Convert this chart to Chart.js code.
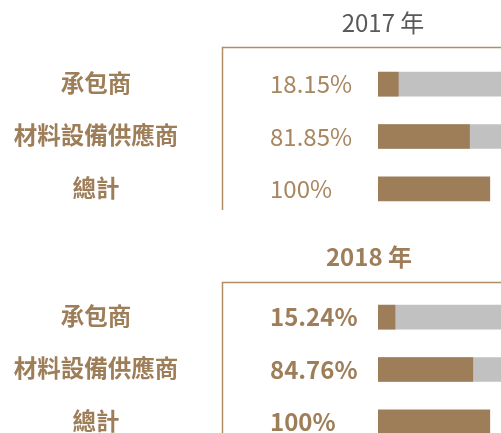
<!DOCTYPE html>
<html>
<head>
<meta charset="utf-8">
<script src="https://cdn.jsdelivr.net/npm/chart.js@4"></script>
<style>
  html, body { margin: 0; padding: 0; background: #fff; overflow: hidden; }
  .wrap { position: relative; width: 501px; height: 433px; overflow: hidden; }
  canvas { position: absolute; left: 0; }
</style>
</head>
<body>
<div class="wrap">
  <canvas id="year2017" width="501" height="230" style="top:0"></canvas>
  <canvas id="year2018" width="501" height="240" style="top:230px"></canvas>
</div>
<script>
const categories = ["承包商", "材料設備供應商", "總計"];
const share2017 = [18.15, 81.85, 100];
const share2018 = [15.24, 84.76, 100];
const pctLabels2017 = ["18.15%", "81.85%", "100%"];
const pctLabels2018 = ["15.24%", "84.76%", "100%"];
// grey track behind the partial rows runs to the end of the axis
const axisMax = 110;
const track = [axisMax, axisMax, null];

const BROWN = "#9e7e59";
const GREY = "#c1c1c1";
const FONT = "'Noto Sans CJK TC', 'Noto Sans', sans-serif";

// titles, the bracket lines and the two text columns
const sheetText = {
  id: "sheet",
  afterDraw(chart, args, opts) {
    const ctx = chart.ctx;
    const y = chart.scales.y;
    ctx.save();

    ctx.fillStyle = opts.titleColor;
    ctx.font = opts.titleWeight + " 24px " + FONT;
    ctx.textAlign = "center";
    ctx.textBaseline = "middle";
    ctx.fillText(opts.title, opts.titleX, opts.titleY);

    ctx.strokeStyle = "#b08d66";
    ctx.lineWidth = 1.5;
    ctx.beginPath();
    ctx.moveTo(chart.width, opts.boxTop + 0.5);
    ctx.lineTo(222.5, opts.boxTop + 0.5);
    ctx.lineTo(222.5, opts.boxBottom);
    ctx.stroke();

    categories.forEach((name, i) => {
      const cy = y.getPixelForValue(i);
      ctx.fillStyle = BROWN;
      ctx.font = "bold 23.5px " + FONT;
      ctx.textAlign = "center";
      ctx.fillText(name, 96, cy - 1);

      ctx.fillStyle = opts.pctColor;
      ctx.font = opts.pctWeight + " 24px " + FONT;
      ctx.textAlign = "left";
      ctx.fillText(opts.pct[i], 270, cy);
    });
    ctx.restore();
  }
};

function makeChart(id, values, pct, extra, pad) {
  return new Chart(document.getElementById(id), {
    type: "bar",
    data: {
      labels: categories,
      datasets: [{
        data: values,
        backgroundColor: BROWN,
        barThickness: 24,
        grouped: false,
        order: 1
      }, {
        data: track,
        backgroundColor: GREY,
        barThickness: 24,
        grouped: false,
        order: 2
      }]
    },
    options: {
      indexAxis: "y",
      responsive: false,
      animation: false,
      devicePixelRatio: 1,
      layout: { padding: pad },
      plugins: {
        legend: { display: false },
        tooltip: { enabled: false },
        sheet: Object.assign({ pct: pct }, extra)
      },
      scales: {
        x: { display: false, min: 0, max: axisMax },
        y: { display: false, offset: true }
      }
    },
    plugins: [sheetText]
  });
}

makeChart("year2017", share2017, pctLabels2017, {
  title: "2017 年", titleX: 383, titleY: 23, titleColor: "#595959", titleWeight: "normal",
  pctColor: "#a8865f", pctWeight: "normal", boxTop: 47, boxBottom: 210
}, { left: 378, right: 0, top: 58, bottom: 15 });

makeChart("year2018", share2018, pctLabels2018, {
  title: "2018 年", titleX: 369, titleY: 27, titleColor: BROWN, titleWeight: "bold",
  pctColor: BROWN, pctWeight: "bold", boxTop: 52, boxBottom: 240
}, { left: 378, right: 0, top: 61, bottom: 22 });
</script>
</body>
</html>
